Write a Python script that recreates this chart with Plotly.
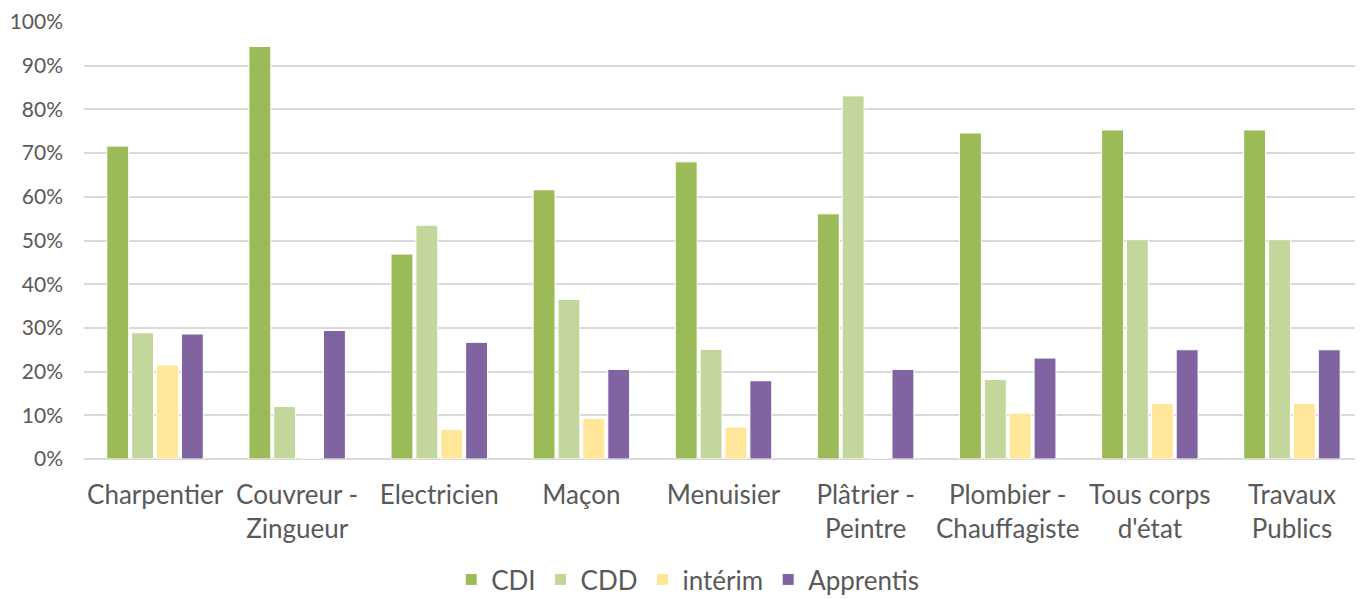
import plotly.graph_objects as go

# metiers (axe x)
metiers = ['Charpentier', 'Couvreur -<br>Zingueur', 'Electricien', 'Maçon', 'Menuisier',
           'Plâtrier -<br>Peintre', 'Plombier -<br>Chauffagiste', "Tous corps<br>d'état",
           'Travaux<br>Publics']

# parts par type de contrat (en %)
cdi = [71.6, 94.4, 46.9, 61.6, 68.0, 56.1, 74.6, 75.3, 75.3]
cdd = [28.9, 12.0, 53.5, 36.5, 25.1, 83.1, 18.2, 50.2, 50.2]
interim = [21.5, 0, 6.8, 9.3, 7.3, 0, 10.5, 12.7, 12.7]
apprentis = [28.6, 29.4, 26.7, 20.5, 17.9, 20.5, 23.1, 25.0, 25.0]

series = [
    ('CDI', cdi, '#9BBB59'),
    ('CDD', cdd, '#C3D69B'),
    ('intérim', interim, '#FFE699'),
    ('Apprentis', apprentis, '#8064A2'),
]

fig = go.Figure()
for nom, valeurs, couleur in series:
    fig.add_trace(go.Bar(
        x=metiers, y=valeurs, name=nom,
        marker=dict(color=couleur, line=dict(color='white', width=1)),
    ))

# la page html ajoute 8px de marge autour du graphique
fig.update_layout(
    width=1355, height=591,
    margin=dict(t=14, b=140, l=76, r=0, autoexpand=False),
    paper_bgcolor='white',
    plot_bgcolor='white',
    font=dict(family='Lato, Carlito, sans-serif', color='#595959', size=25),
    barmode='group',
    bargap=0.3,
    bargroupgap=0.12,
    showlegend=True,
    legend=dict(
        orientation='h',
        x=0.472, xanchor='center',
        y=-0.222, yanchor='top',
        font=dict(size=26, color='#595959'),
    ),
    xaxis=dict(
        showgrid=False,
        showline=False,
        ticks='',
        automargin=False,
        tickfont=dict(size=26, color='#595959'),
        ticklabelstandoff=18,
    ),
    yaxis=dict(
        range=[0, 100],
        dtick=10,
        ticksuffix='%',
        automargin=False,
        showgrid=True,
        gridcolor='#D9D9D9',
        gridwidth=1.5,
        zeroline=True,
        zerolinecolor='#D9D9D9',
        zerolinewidth=1.5,
        tickfont=dict(size=21, color='#595959'),
        ticklabelstandoff=20,
    ),
)

fig.write_html("out.html")
